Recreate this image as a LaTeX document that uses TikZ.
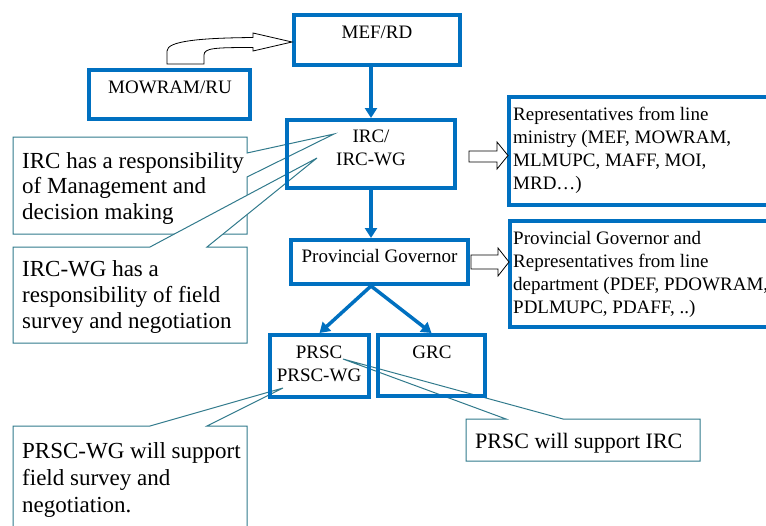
\documentclass[tikz,border=0pt]{standalone}
\usepackage{fontspec}
\setmainfont{Liberation Serif}
\usetikzlibrary{arrows.meta,calc}
\definecolor{boxblue}{RGB}{0,112,192}
\definecolor{callteal}{RGB}{49,122,140}
\tikzset{
  bluebox/.style={draw=boxblue, line width=4pt, inner sep=0pt},
  conn/.style={draw=boxblue, line width=3.5pt, -{Triangle[width=12pt,length=10pt]}},
  hollow/.style={draw=black, line width=0.8pt, fill=white, line join=miter},
  callout/.style={draw=callteal, line width=1pt, fill=white},
  btext/.style={inner sep=0pt, font=\fontsize{19}{23}\selectfont},
  ctext/.style={inner sep=0pt, align=left, anchor=base west, font=\fontsize{23}{25.5}\selectfont},
}
\begin{document}
\begin{tikzpicture}[x=1pt,y=-1pt]
\useasboundingbox (0,0) rectangle (766,525);
\clip (0,0) rectangle (766,525);

% callouts
\draw[callout] (13,137) -- (247,137) -- (247,153) -- (334,134) -- (247,177) -- (247,234) -- (13,234) -- cycle;
\draw[callout] (13,247) -- (150,247) -- (317,158) -- (207,247) -- (247,247) -- (247,343) -- (13,343) -- cycle;
\draw[callout] (13,426) -- (150,426) -- (283,388) -- (207,426) -- (247,426) -- (247,545) -- (13,545) -- cycle;
\draw[callout] (466,419) -- (506,419) -- (343,359) -- (563,419) -- (700,419) -- (700,461) -- (466,461) -- cycle;

% blue boxes
\node[bluebox, minimum width=166pt, minimum height=50pt] (mef) at (377,40) {};
\node[bluebox, minimum width=161pt, minimum height=49pt] (mowram) at (169.5,94.5) {};
\node[bluebox, minimum width=168pt, minimum height=68pt] (irc) at (371,154) {};
\node[bluebox, minimum width=177pt, minimum height=44pt] (pg) at (379.5,262) {};
\node[bluebox, minimum width=281pt, minimum height=108pt] (rep1) at (649.5,151) {};
\node[bluebox, minimum width=280pt, minimum height=106pt] (rep2) at (650,274) {};
\node[bluebox, minimum width=99pt, minimum height=62pt] (prsc) at (319.5,366) {};
\node[bluebox, minimum width=107pt, minimum height=61pt] (grc) at (431.5,365.5) {};

% connectors
\draw[conn] (mef.south -| irc.north) -- (irc.north);
\draw[conn] (irc.south) -- (irc.south |- pg.north);
\draw[conn] (pg.south -| irc.south) -- (prsc.north);
\draw[conn] (pg.south -| irc.south) -- (grc.north);

% hollow block arrows
\draw[hollow] (469,151) -- (497,151) -- (497,142) -- (508,155.5) -- (497,169) -- (497,162) -- (469,162) -- cycle;
\draw[hollow] (471,255) -- (498,255) -- (498,248) -- (509,262) -- (498,276) -- (498,269) -- (471,269) -- cycle;
\draw[hollow] (167,64) -- (167,51) .. controls (167,41) and (200,38) .. (253,37.5) -- (253,33) -- (292,42) -- (253,51) -- (253,47.5) .. controls (215,47.5) and (204,48) .. (204,55) -- (204,64) -- cycle;

% box texts (multi-line nodes: base = last line)
\node[btext, anchor=base] (mef-t) at (377,38) {MEF/RD};
\node[btext, anchor=base] (mowram-t) at (170,93) {MOWRAM/RU};
\node[btext, anchor=base, align=center] (irc-t) at (371,165) {IRC/\\IRC-WG};
\node[btext, anchor=base] (pg-t) at (379.5,262) {Provincial Governor};
\node[btext, anchor=base west, align=left] (rep1-t) at (513,189) {Representatives from line\\ministry (MEF, MOWRAM,\\MLMUPC, MAFF, MOI,\\MRD…)};
\node[btext, anchor=base west, align=left] (rep2-t) at (513,313) {Provincial Governor and\\Representatives from line\\department (PDEF, PDOWRAM,\\PDLMUPC, PDAFF, ..)};
\node[btext, anchor=base, align=center] (prsc-t) at (319,381) {PRSC\\PRSC-WG};
\node[btext, anchor=base] (grc-t) at (432,358) {GRC};

% callout texts
\node[ctext] (c1-t) at (22,219) {IRC has a responsibility\\of Management and\\decision making};
\node[ctext, font=\fontsize{23}{26}\selectfont] (c2-t) at (22,328) {IRC-WG has a\\responsibility of field\\survey and negotiation};
\node[ctext, font=\fontsize{23}{27}\selectfont] (c3-t) at (22,512) {PRSC-WG will support\\field survey and\\negotiation.};
\node[ctext, font=\fontsize{22}{26}\selectfont] (c4-t) at (475,448) {PRSC will support IRC};
\end{tikzpicture}
\end{document}
